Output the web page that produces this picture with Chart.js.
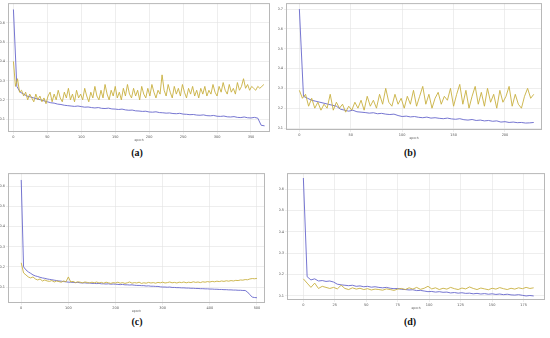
<!DOCTYPE html>
<html>
<head>
<meta charset="utf-8">
<script src="https://cdn.jsdelivr.net/npm/chart.js@4.4.1/dist/chart.umd.min.js"></script>
<style>
  body { margin: 0; background: #fff; width: 550px; height: 338px; position: relative; overflow: hidden; }
  canvas { position: absolute; }
  .cap { position: absolute; width: 40px; margin-left: -20px; text-align: center;
         font: bold 10px "Liberation Serif", serif; color: #111; }
</style>
</head>
<body>
<canvas id="chartA" style="left:0;top:0"></canvas>
<canvas id="chartB" style="left:278px;top:0"></canvas>
<canvas id="chartC" style="left:0;top:170px"></canvas>
<canvas id="chartD" style="left:279px;top:170px"></canvas>
<div class="cap" style="left:137px;top:147px">(a)</div>
<div class="cap" style="left:410px;top:147px">(b)</div>
<div class="cap" style="left:137px;top:316px">(c)</div>
<div class="cap" style="left:410px;top:316px">(d)</div>
<script>
// Panel (a): 370 epochs
const xTicksA = [0, 50, 100, 150, 200, 250, 300, 350];
const yTicksA = [0.1, 0.2, 0.3, 0.4, 0.5, 0.6];
const trainStepA = 5;
const trainA = [0.67, 0.27, 0.24, 0.23, 0.22, 0.215, 0.21, 0.205, 0.20, 0.195, 0.19, 0.185, 0.183, 0.178, 0.176,
  0.172, 0.17, 0.168, 0.166, 0.168, 0.165, 0.162, 0.163, 0.16, 0.158, 0.16, 0.156, 0.155, 0.157, 0.153,
  0.152, 0.15, 0.152, 0.148, 0.146, 0.147, 0.143, 0.142, 0.14, 0.141, 0.137, 0.136, 0.138, 0.134, 0.133,
  0.131, 0.132, 0.129, 0.128, 0.13, 0.126, 0.125, 0.123, 0.124, 0.121, 0.12, 0.122, 0.118, 0.117, 0.119,
  0.115, 0.114, 0.116, 0.112, 0.111, 0.113, 0.109, 0.108, 0.111, 0.107, 0.106, 0.109, 0.105, 0.068, 0.065];
const valStepA = 3;
const valA = [0.40, 0.27, 0.31, 0.24, 0.25, 0.22, 0.24, 0.20, 0.23, 0.21, 0.19, 0.23, 0.20, 0.22, 0.19,
  0.21, 0.18, 0.22, 0.24, 0.19, 0.23, 0.20, 0.25, 0.21, 0.19, 0.24, 0.21, 0.26, 0.20, 0.23,
  0.19, 0.25, 0.21, 0.23, 0.20, 0.26, 0.22, 0.19, 0.24, 0.21, 0.27, 0.22, 0.20, 0.25, 0.21,
  0.28, 0.23, 0.20, 0.25, 0.22, 0.27, 0.21, 0.24, 0.20, 0.26, 0.22, 0.28, 0.23, 0.21, 0.26,
  0.22, 0.25, 0.20, 0.27, 0.23, 0.21, 0.26, 0.22, 0.28, 0.24, 0.21, 0.25, 0.23, 0.33, 0.25,
  0.22, 0.28, 0.24, 0.21, 0.27, 0.23, 0.26, 0.22, 0.28, 0.24, 0.21, 0.26, 0.23, 0.27, 0.22,
  0.25, 0.21, 0.26, 0.23, 0.27, 0.22, 0.25, 0.23, 0.28, 0.24, 0.22, 0.27, 0.24, 0.29, 0.25,
  0.23, 0.28, 0.24, 0.26, 0.23, 0.29, 0.25, 0.27, 0.31, 0.26, 0.28, 0.25, 0.27, 0.26, 0.25,
  0.27, 0.26, 0.27, 0.28];

// Panel (b): 228 epochs
const xTicksB = [0, 50, 100, 150, 200];
const yTicksB = [0.1, 0.2, 0.3, 0.4, 0.5, 0.6, 0.7];
const trainStepB = 4;
const trainB = [0.70, 0.26, 0.25, 0.24, 0.235, 0.23, 0.225, 0.22, 0.215, 0.21, 0.195, 0.19, 0.185, 0.19, 0.182,
  0.18, 0.178, 0.175, 0.177, 0.172, 0.174, 0.17, 0.168, 0.17, 0.163, 0.158, 0.16, 0.156, 0.158, 0.154,
  0.152, 0.155, 0.15, 0.152, 0.149, 0.147, 0.15, 0.146, 0.144, 0.147, 0.142, 0.14, 0.143, 0.138, 0.14,
  0.136, 0.138, 0.134, 0.136, 0.13, 0.132, 0.128, 0.13, 0.127, 0.128, 0.125, 0.126, 0.128];
const valStepB = 3;
const valB = [0.29, 0.25, 0.27, 0.21, 0.25, 0.20, 0.23, 0.19, 0.22, 0.20, 0.27, 0.19, 0.23, 0.20, 0.22,
  0.18, 0.21, 0.19, 0.23, 0.20, 0.24, 0.19, 0.26, 0.21, 0.24, 0.20, 0.27, 0.22, 0.30, 0.23,
  0.21, 0.27, 0.22, 0.25, 0.20, 0.26, 0.22, 0.29, 0.21, 0.26, 0.31, 0.22, 0.27, 0.20, 0.25,
  0.28, 0.22, 0.26, 0.24, 0.30, 0.21, 0.27, 0.32, 0.22, 0.29, 0.20, 0.26, 0.31, 0.22, 0.28,
  0.21, 0.30, 0.23, 0.27, 0.20, 0.29, 0.23, 0.26, 0.31, 0.21, 0.27, 0.22, 0.20, 0.26, 0.30,
  0.25, 0.27];

// Panel (c): 500 epochs
const xTicksC = [0, 100, 200, 300, 400, 500];
const yTicksC = [0.1, 0.2, 0.3, 0.4, 0.5, 0.6];
const trainStepC = 5;
const trainC = [0.63, 0.20, 0.185, 0.175, 0.168, 0.16, 0.155, 0.152, 0.148, 0.145, 0.143, 0.14, 0.138, 0.136, 0.134,
  0.132, 0.13, 0.129, 0.127, 0.126, 0.124, 0.124, 0.123, 0.122, 0.123, 0.121, 0.12, 0.121, 0.119, 0.12,
  0.118, 0.118, 0.117, 0.118, 0.116, 0.116, 0.115, 0.116, 0.114, 0.115, 0.114, 0.113, 0.112, 0.113, 0.111,
  0.111, 0.11, 0.111, 0.109, 0.108, 0.108, 0.107, 0.107, 0.105, 0.106, 0.104, 0.104, 0.103, 0.103, 0.101,
  0.1, 0.1, 0.099, 0.1, 0.098, 0.098, 0.097, 0.097, 0.096, 0.096, 0.095, 0.095, 0.094, 0.094, 0.093,
  0.093, 0.092, 0.092, 0.091, 0.091, 0.09, 0.09, 0.089, 0.089, 0.088, 0.088, 0.087, 0.087, 0.086, 0.086,
  0.085, 0.085, 0.084, 0.084, 0.083, 0.083, 0.075, 0.062, 0.05, 0.048, 0.047];
const valStepC = 5;
const valC = [0.22, 0.17, 0.16, 0.15, 0.145, 0.15, 0.14, 0.135, 0.14, 0.13, 0.135, 0.13, 0.128, 0.132, 0.125,
  0.13, 0.127, 0.124, 0.13, 0.126, 0.15, 0.125, 0.128, 0.122, 0.126, 0.124, 0.121, 0.125, 0.123, 0.12,
  0.124, 0.121, 0.125, 0.12, 0.123, 0.119, 0.124, 0.121, 0.118, 0.122, 0.12, 0.124, 0.119, 0.122, 0.118,
  0.121, 0.125, 0.119, 0.122, 0.12, 0.124, 0.118, 0.121, 0.119, 0.123, 0.12, 0.122, 0.119, 0.123, 0.121,
  0.124, 0.12, 0.122, 0.125, 0.121, 0.123, 0.12, 0.124, 0.122, 0.125, 0.121, 0.124, 0.122, 0.126, 0.123,
  0.125, 0.122, 0.126, 0.124, 0.127, 0.125, 0.128, 0.126, 0.129, 0.127, 0.13, 0.128, 0.131, 0.129, 0.132,
  0.13, 0.133, 0.132, 0.135, 0.134, 0.137, 0.136, 0.14, 0.142, 0.141, 0.143];

// Panel (d): 183 epochs
const xTicksD = [0, 25, 50, 75, 100, 125, 150, 175];
const yTicksD = [0.1, 0.2, 0.3, 0.4, 0.5, 0.6];
const trainStepD = 3;
const trainD = [0.652, 0.19, 0.175, 0.18, 0.17, 0.172, 0.168, 0.17, 0.165, 0.155, 0.152, 0.15, 0.148, 0.15, 0.145,
  0.147, 0.143, 0.145, 0.141, 0.143, 0.14, 0.138, 0.14, 0.136, 0.134, 0.135, 0.131, 0.13, 0.128, 0.129,
  0.125, 0.126, 0.123, 0.12, 0.121, 0.118, 0.12, 0.117, 0.118, 0.114, 0.116, 0.113, 0.115, 0.112, 0.113,
  0.11, 0.112, 0.109, 0.111, 0.108, 0.11, 0.107, 0.109, 0.106, 0.108, 0.105, 0.104, 0.106, 0.103, 0.1,
  0.102, 0.1];
const valStepD = 3;
const valD = [0.18, 0.16, 0.14, 0.16, 0.135, 0.145, 0.14, 0.135, 0.14, 0.133, 0.15, 0.135, 0.13, 0.138, 0.132,
  0.136, 0.13, 0.134, 0.128, 0.132, 0.13, 0.127, 0.133, 0.13, 0.126, 0.132, 0.135, 0.13, 0.138, 0.132,
  0.14, 0.131, 0.136, 0.145, 0.133, 0.138, 0.13, 0.136, 0.132, 0.14, 0.134, 0.13, 0.137, 0.133, 0.142,
  0.135, 0.13, 0.137, 0.133, 0.129, 0.136, 0.132, 0.139, 0.134, 0.13, 0.136, 0.132, 0.138, 0.134, 0.14,
  0.135, 0.138];

const trainColor = "#6666cc";
const valColor = "#c8b040";

function toPoints(values, step) {
  return values.map((v, i) => ({ x: i * step, y: v }));
}

// draws the box round the plot area
const frame = {
  id: "frame",
  afterDraw(chart) {
    const a = chart.chartArea, ctx = chart.ctx;
    ctx.save();
    ctx.strokeStyle = "#b8b8b8";
    ctx.lineWidth = 1;
    ctx.strokeRect(a.left + 0.5, a.top + 0.5, a.right - a.left - 1, a.bottom - a.top - 1);
    ctx.restore();
  }
};

function makeChart(id, w, h, pad, p) {
  const canvas = document.getElementById(id);
  canvas.width = w; canvas.height = h;
  canvas.style.width = w + "px"; canvas.style.height = h + "px";
  const tickFont = { family: "DejaVu Sans", size: 3.5 };
  return new Chart(canvas, {
    type: "line",
    data: {
      datasets: [
        { data: toPoints(p.val, p.valStep), borderColor: valColor, borderWidth: 0.9, pointRadius: 0, tension: 0 },
        { data: toPoints(p.train, p.trainStep), borderColor: trainColor, borderWidth: 0.9, pointRadius: 0, tension: 0 }
      ]
    },
    options: {
      responsive: false,
      animation: false,
      layout: { padding: pad },
      plugins: { legend: { display: false }, tooltip: { enabled: false } },
      scales: {
        x: {
          type: "linear", min: p.xMin, max: p.xMax,
          afterBuildTicks: s => { s.ticks = p.xTicks.map(v => ({ value: v })); },
          afterFit: s => { s.height = 10; },
          grid: { color: "#e2e2e2", lineWidth: 0.6, tickLength: 2 },
          border: { display: false },
          ticks: { font: tickFont, color: "#555", padding: 1, maxRotation: 0 },
          title: { display: true, text: "epoch", font: { family: "DejaVu Sans", size: 3 }, color: "#555", padding: 0 }
        },
        y: {
          min: p.yMin, max: p.yMax,
          afterBuildTicks: s => { s.ticks = p.yTicks.map(v => ({ value: v })); },
          afterFit: s => { s.width = 8; },
          grid: { color: "#e2e2e2", lineWidth: 0.6, tickLength: 2 },
          border: { display: false },
          ticks: { font: tickFont, color: "#555", padding: 1, callback: v => v.toFixed(1) }
        }
      }
    },
    plugins: [frame]
  });
}

makeChart("chartA", 272, 142, { top: 2, right: 2, left: 0, bottom: 0 }, {
  train: trainA, trainStep: trainStepA, val: valA, valStep: valStepA,
  xTicks: xTicksA, yTicks: yTicksA, xMin: -8, xMax: 378, yMin: 0.033, yMax: 0.703
});
makeChart("chartB", 266, 140, { top: 3, right: 2, left: 0, bottom: 0 }, {
  train: trainB, trainStep: trainStepB, val: valB, valStep: valStepB,
  xTicks: xTicksB, yTicks: yTicksB, xMin: -13, xMax: 236, yMin: 0.09, yMax: 0.73
});
makeChart("chartC", 267, 143, { top: 3, right: 2, left: 0, bottom: 0 }, {
  train: trainC, trainStep: trainStepC, val: valC, valStep: valStepC,
  xTicks: xTicksC, yTicks: yTicksC, xMin: -28, xMax: 517, yMin: 0.021, yMax: 0.664
});
makeChart("chartD", 268, 140, { top: 3, right: 2, left: 0, bottom: 0 }, {
  train: trainD, trainStep: trainStepD, val: valD, valStep: valStepD,
  xTicks: xTicksD, yTicks: yTicksD, xMin: -13, xMax: 192, yMin: 0.081, yMax: 0.675
});
</script>
</body>
</html>
